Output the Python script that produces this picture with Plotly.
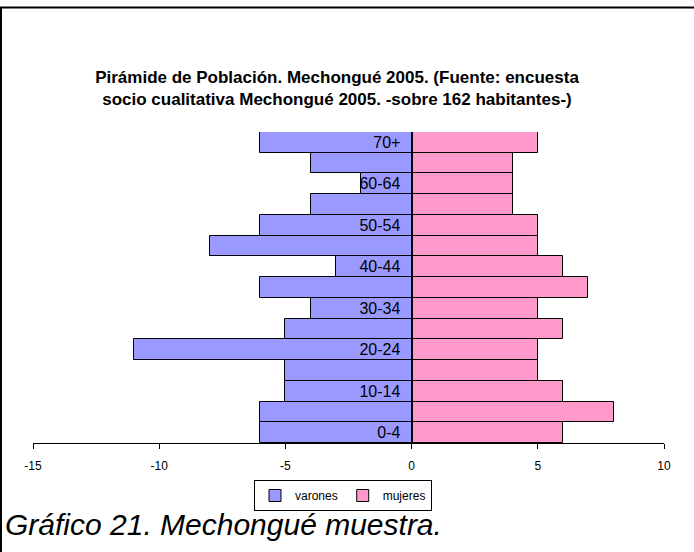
import plotly.graph_objects as go

age_groups = ["0-4", "5-9", "10-14", "15-19", "20-24", "25-29", "30-34", "35-39",
              "40-44", "45-49", "50-54", "55-59", "60-64", "65-69", "70+"]
varones = [-6, -6, -5, -5, -11, -5, -4, -6, -3, -8, -6, -4, -2, -4, -6]
mujeres = [6, 8, 6, 5, 5, 6, 5, 7, 6, 5, 5, 4, 4, 4, 5]
shown_labels = ["0-4", "10-14", "20-24", "30-34", "40-44", "50-54", "60-64", "70+"]
x_ticks = [-15, -10, -5, 0, 5, 10]

W, H = 694, 552
L, R, T, B = 33, 30, 132, 109
pw, ph = W - L - R, H - T - B

def px(x):
    return (x - L) / pw

def py(y):
    return (H - B - y) / ph

FONT = "Arial, Liberation Sans, sans-serif"

fig = go.Figure()
fig.add_trace(go.Bar(y=age_groups, x=varones, orientation="h", name="varones",
                     marker=dict(color="#9999FF", line=dict(color="#000000", width=1))))
fig.add_trace(go.Bar(y=age_groups, x=mujeres, orientation="h", name="mujeres",
                     marker=dict(color="#FF99CC", line=dict(color="#000000", width=1))))

fig.update_layout(
    width=W, height=H,
    margin=dict(l=L, r=R, t=T, b=B),
    barmode="relative", bargap=0,
    paper_bgcolor="white", plot_bgcolor="white",
    font=dict(family=FONT, color="black"),
    title=dict(text="<b>Pirámide de Población. Mechongué 2005. (Fuente: encuesta<br>socio cualitativa Mechongué 2005. -sobre 162 habitantes-)</b>",
               x=px(337), xref="paper", xanchor="center",
               y=1 - 83 / H, yref="container", yanchor="middle",
               font=dict(size=17, family=FONT, color="black")),
    xaxis=dict(range=[-15, 10], tickvals=x_ticks, ticktext=[str(v) for v in x_ticks],
               showgrid=False, zeroline=False, showline=True, linecolor="black", linewidth=1,
               ticks="outside", ticklen=5, tickcolor="black", ticklabelstandoff=7,
               tickfont=dict(size=12, family=FONT, color="black"),
               fixedrange=True),
    yaxis=dict(type="category", categoryorder="array", categoryarray=age_groups,
               tickvals=shown_labels, ticktext=shown_labels,
               anchor="free", position=0.6, showline=True, linecolor="black", linewidth=1,
               showgrid=False, zeroline=False, ticks="", ticklabelstandoff=8,
               tickfont=dict(size=16, family=FONT, color="black")),
    legend=dict(orientation="h", x=px(343), xanchor="center", y=py(480), yanchor="top",
                bordercolor="black", borderwidth=1, font=dict(size=12, family=FONT, color="black"),
                itemwidth=30, tracegroupgap=0),
    showlegend=True,
)

fig.add_annotation(text="<i>Gráfico 21. Mechongué muestra.</i>", xref="paper", yref="paper",
                   x=px(3), xanchor="left", y=py(524), yanchor="middle", showarrow=False,
                   font=dict(size=30, family=FONT, color="black"))

fig.add_shape(type="line", xref="paper", yref="paper", x0=px(0), x1=px(694), y0=py(7.5), y1=py(7.5),
              line=dict(color="black", width=2))
fig.add_shape(type="line", xref="paper", yref="paper", x0=px(1), x1=px(1), y0=py(7), y1=py(552),
              line=dict(color="black", width=2))

fig.write_html("out.html", config={"displayModeBar": False},
               post_script="document.body.style.margin='0px';")
